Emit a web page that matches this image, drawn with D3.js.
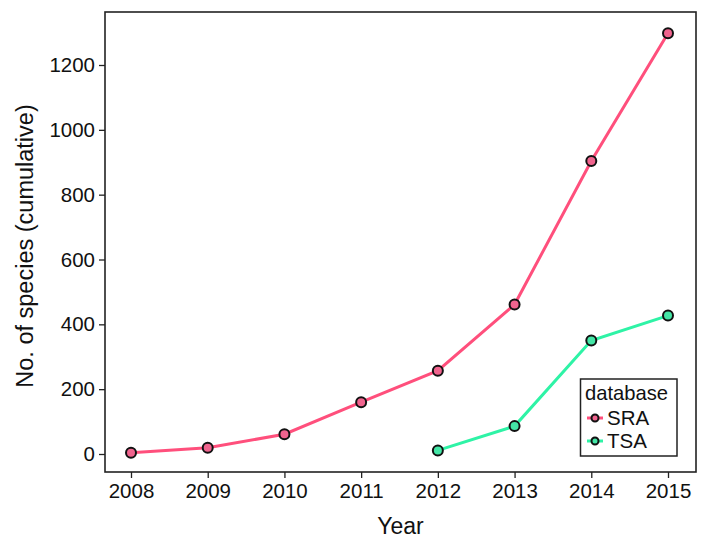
<!DOCTYPE html>
<html><head><meta charset="utf-8">
<script src="https://cdn.jsdelivr.net/npm/d3@7"></script>
<style>body{margin:0;background:#fff;} text{font-family:"Liberation Sans",Arial,Helvetica,sans-serif;}</style>
</head><body>
<svg id="c" width="708" height="546"></svg>
<script>
const years = [2008, 2009, 2010, 2011, 2012, 2013, 2014, 2015];
const sraValues = [4, 19, 61, 160, 257, 461, 904, 1298];
const tsaYears = [2012, 2013, 2014, 2015];
const tsaValues = [11, 86, 350, 427];
const yTicks = [0, 200, 400, 600, 800, 1000, 1200];
const seriesNames = ["SRA", "TSA"];
const lineColors = ["#ff4f7c", "#2ef3a6"];
const fillColors = ["#f0648e", "#44e6a6"];

const svg = d3.select("#c");
const panel = {l: 105, r: 696, t: 12, b: 472};
const x = d3.scaleLinear().domain([2008, 2015]).range([131, 668]);
const y = d3.scaleLinear().domain([0, 1200]).range([454, 65]);

// axes
const xAxis = svg.append("g").attr("transform", `translate(0,${panel.b})`)
  .call(d3.axisBottom(x).tickValues(years).tickFormat(d3.format("d")).tickSizeOuter(0).tickSize(6).tickPadding(5));
const yAxis = svg.append("g").attr("transform", `translate(${panel.l},0)`)
  .call(d3.axisLeft(y).tickValues(yTicks).tickFormat(d3.format("d")).tickSizeOuter(0).tickSize(6).tickPadding(4));
[xAxis, yAxis].forEach(g => {
  g.select(".domain").remove();
  g.selectAll("line").attr("stroke", "#222").attr("stroke-width", 1.3);
  g.selectAll("text").attr("font-size", 20.5).attr("fill", "#111");
});

svg.append("rect").attr("x", panel.l).attr("y", panel.t)
  .attr("width", panel.r - panel.l).attr("height", panel.b - panel.t)
  .attr("fill", "none").attr("stroke", "#222").attr("stroke-width", 1.6);

const series = [
  years.map((d, i) => ({x: d, y: sraValues[i]})),
  tsaYears.map((d, i) => ({x: d, y: tsaValues[i]}))
];
const line = d3.line().x(d => x(d.x)).y(d => y(d.y));
series.forEach((s, i) => {
  svg.append("path").datum(s).attr("d", line).attr("fill", "none")
    .attr("stroke", lineColors[i]).attr("stroke-width", 3);
});
series.forEach((s, i) => {
  svg.selectAll(null).data(s).enter().append("circle")
    .attr("cx", d => x(d.x)).attr("cy", d => y(d.y)).attr("r", 5)
    .attr("fill", fillColors[i]).attr("stroke", "#111").attr("stroke-width", 2);
});

// axis titles
svg.append("text").attr("x", (panel.l + panel.r) / 2).attr("y", 534)
  .attr("text-anchor", "middle").attr("font-size", 23).attr("fill", "#111").text("Year");
svg.append("text").attr("transform", `translate(33,246) rotate(-90)`)
  .attr("text-anchor", "middle").attr("font-size", 23.5).attr("fill", "#111").text("No. of species (cumulative)");

// legend
const lg = svg.append("g");
lg.append("rect").attr("x", 580.5).attr("y", 379).attr("width", 96.5).attr("height", 77)
  .attr("fill", "#fff").attr("stroke", "#222").attr("stroke-width", 1.5);
lg.append("text").attr("x", 585).attr("y", 400).attr("font-size", 20.2).attr("fill", "#111").text("database");
seriesNames.forEach((n, i) => {
  const cy = 418 + i * 23;
  lg.append("line").attr("x1", 587).attr("x2", 603).attr("y1", cy).attr("y2", cy)
    .attr("stroke", lineColors[i]).attr("stroke-width", 3);
  lg.append("circle").attr("cx", 595).attr("cy", cy).attr("r", 3.5)
    .attr("fill", fillColors[i]).attr("stroke", "#111").attr("stroke-width", 2);
  lg.append("text").attr("x", 607).attr("y", cy + 7).attr("font-size", 20.5).attr("fill", "#111").text(n);
});
</script>
</body></html>
